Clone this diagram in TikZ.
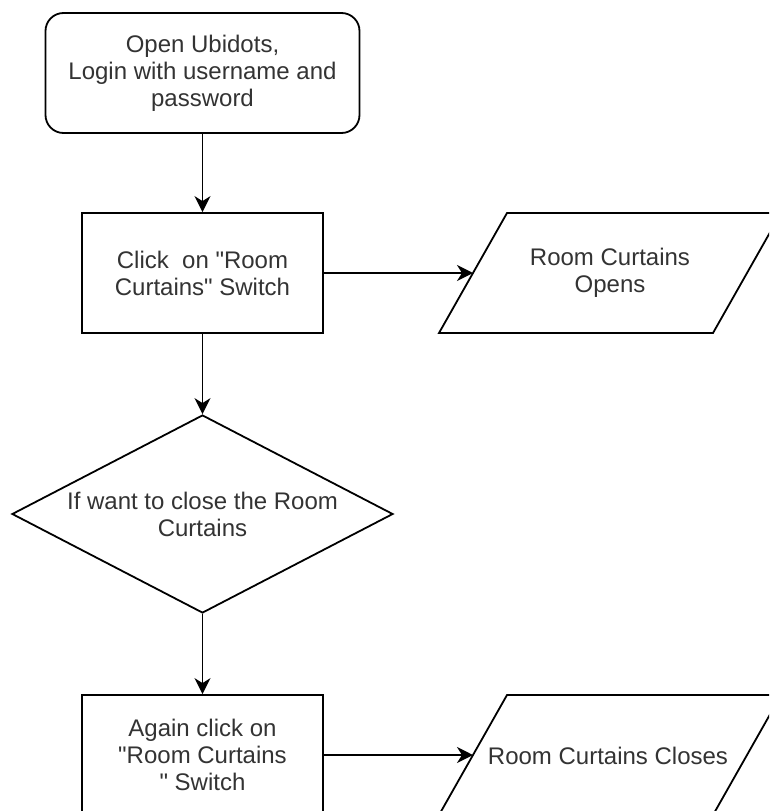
\documentclass[tikz,border=0pt]{standalone}
\usepackage{fontspec}
\setmainfont{Liberation Sans}[Ligatures=TeXOff]
\usetikzlibrary{shapes.geometric,arrows.meta}
\begin{document}
\begin{tikzpicture}[x=1pt,y=-1pt,
  base/.style={draw=black, line width=1.8pt, fill=white,
    font=\fontsize{24}{27}\selectfont, text=black!80, align=center,
    inner sep=0pt},
  label/.style={font=\fontsize{24}{27}\selectfont, text=black!80,
    align=center, inner sep=0pt},
  startbox/.style={base, rectangle, rounded corners=18pt,
    minimum width=314pt, minimum height=120pt},
  procbox/.style={base, rectangle, minimum width=241pt, minimum height=120pt},
  decision/.style={base, diamond, shape aspect=2,
    minimum width=381pt, minimum height=198pt},
  ioshape/.style={draw=black, line width=1.8pt, fill=white},
  flow/.style={line width=1.8pt, draw=black,
    -{Stealth[length=16pt,width=16pt,inset=5pt]}}
]
\clip (0,0) rectangle (769,811);
\fill[white] (0,0) rectangle (769,811);

% input/output parallelograms (slanted sides, partly beyond the right edge)
\draw[ioshape] (439,333) -- (507,213) -- (781,213) -- (713,333) -- cycle;
\draw[ioshape] (439,815) -- (507,695) -- (781,695) -- (713,815) -- cycle;
\coordinate (openin)  at (473,273);
\coordinate (closein) at (473,755);

\node[startbox] (start) at (202.5,73) {Open Ubidots,\\Login with username and\\password};
\node[procbox]  (click) at (202.5,273) {Click\ \ on "Room\\Curtains" Switch};
\node[label]    (open)  at (610,273) {Room Curtains\\Opens};
\node[decision] (ask)   at (202.5,514) {If want to close the Room\\Curtains};
\node[procbox]  (again) at (202.5,755) {Again click on\\"Room Curtains\\" Switch};
\node[label]    (close) at (608,756) {Room Curtains Closes};

\draw[flow] (start) -- (click);
\draw[flow] (click) -- (openin);
\draw[flow] (click) -- (ask);
\draw[flow] (ask) -- (again);
\draw[flow] (again) -- (closein);
\end{tikzpicture}
\end{document}
